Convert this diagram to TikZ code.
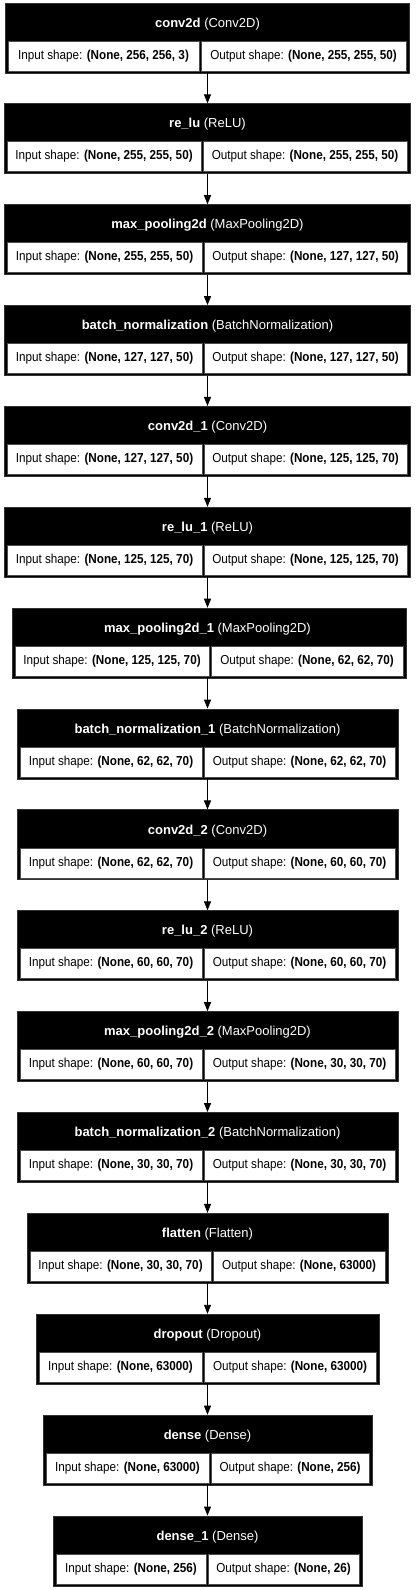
\documentclass[tikz,border=0pt]{standalone}
\usepackage{fontspec}
\setmainfont{Liberation Sans}
\newfontfamily\cellfont[FakeStretch=0.9]{Liberation Sans}
\usetikzlibrary{arrows.meta}
\tikzset{
  outerbox/.style={fill=black, draw=black!80, line width=0.4pt, inner sep=0pt, minimum height=70pt},
  cellbox/.style={fill=white, draw=black!70, line width=0.3pt, inner sep=0pt, minimum height=30pt, font=\cellfont\fontsize{13}{15}\selectfont},
  headtext/.style={text=white, inner sep=0pt, font=\fontsize{13}{15}\selectfont},
  flow/.style={line width=0.9pt, -{Triangle[length=9pt,width=7pt]}}
}
\newcommand\blk[8]{%
  \pgfmathsetmacro\tp{2.7+(#1-1)*100.87}%
  \pgfmathsetmacro\cx{(#4+#5)/2}%
  \pgfmathsetmacro\lw{#6-1-#4-3}%
  \pgfmathsetmacro\lx{(#4+3+#6-1)/2}%
  \pgfmathsetmacro\rw{#5-3-#6-1}%
  \pgfmathsetmacro\rx{(#6+1+#5-3)/2}%
  \node[outerbox, minimum width={(#5-#4)*1pt}] (b#1) at (\cx,{\tp+35}) {};
  \node[headtext] (h#1) at (207.5,{\tp+21}) {\textbf{#2} (#3)};
  \node[cellbox, minimum width={\lw*1pt}] (i#1) at (\lx,{\tp+53}) {Input shape: \textbf{#7}};
  \node[cellbox, minimum width={\rw*1pt}] (o#1) at (\rx,{\tp+53}) {Output shape: \textbf{#8}};
}
\begin{document}
\begin{tikzpicture}[x=1pt,y=-1pt]
\useasboundingbox[fill=white] (0,0) rectangle (415,1590);
\coordinate (ax) at (207.5,0);
\blk{1}{conv2d}{Conv2D}{5}{409}{200}{(None, 256, 256, 3)}{(None, 255, 255, 50)}
\blk{2}{re\_lu}{ReLU}{4}{410}{202}{(None, 255, 255, 50)}{(None, 255, 255, 50)}
\blk{3}{max\_pooling2d}{MaxPooling2D}{4}{410}{203}{(None, 255, 255, 50)}{(None, 127, 127, 50)}
\blk{4}{batch\_normalization}{BatchNormalization}{4}{410}{203}{(None, 127, 127, 50)}{(None, 127, 127, 50)}
\blk{5}{conv2d\_1}{Conv2D}{4}{410}{203}{(None, 127, 127, 50)}{(None, 125, 125, 70)}
\blk{6}{re\_lu\_1}{ReLU}{4}{410}{203}{(None, 125, 125, 70)}{(None, 125, 125, 70)}
\blk{7}{max\_pooling2d\_1}{MaxPooling2D}{12}{406}{210}{(None, 125, 125, 70)}{(None, 62, 62, 70)}
\blk{8}{batch\_normalization\_1}{BatchNormalization}{17}{398}{203}{(None, 62, 62, 70)}{(None, 62, 62, 70)}
\blk{9}{conv2d\_2}{Conv2D}{17}{398}{203}{(None, 62, 62, 70)}{(None, 60, 60, 70)}
\blk{10}{re\_lu\_2}{ReLU}{17}{398}{203}{(None, 60, 60, 70)}{(None, 60, 60, 70)}
\blk{11}{max\_pooling2d\_2}{MaxPooling2D}{17}{398}{203}{(None, 60, 60, 70)}{(None, 30, 30, 70)}
\blk{12}{batch\_normalization\_2}{BatchNormalization}{17}{398}{203}{(None, 30, 30, 70)}{(None, 30, 30, 70)}
\blk{13}{flatten}{Flatten}{27}{388}{212}{(None, 30, 30, 70)}{(None, 63000)}
\blk{14}{dropout}{Dropout}{36}{379}{203}{(None, 63000)}{(None, 63000)}
\blk{15}{dense}{Dense}{43}{372}{210}{(None, 63000)}{(None, 256)}
\blk{16}{dense\_1}{Dense}{53}{362}{207}{(None, 256)}{(None, 26)}
\foreach \a/\b in {1/2,2/3,3/4,4/5,5/6,6/7,7/8,8/9,9/10,10/11,11/12,12/13,13/14,14/15,15/16}
  \draw[flow] (b\a.south -| ax) -- (b\b.north -| ax);
\end{tikzpicture}
\end{document}
